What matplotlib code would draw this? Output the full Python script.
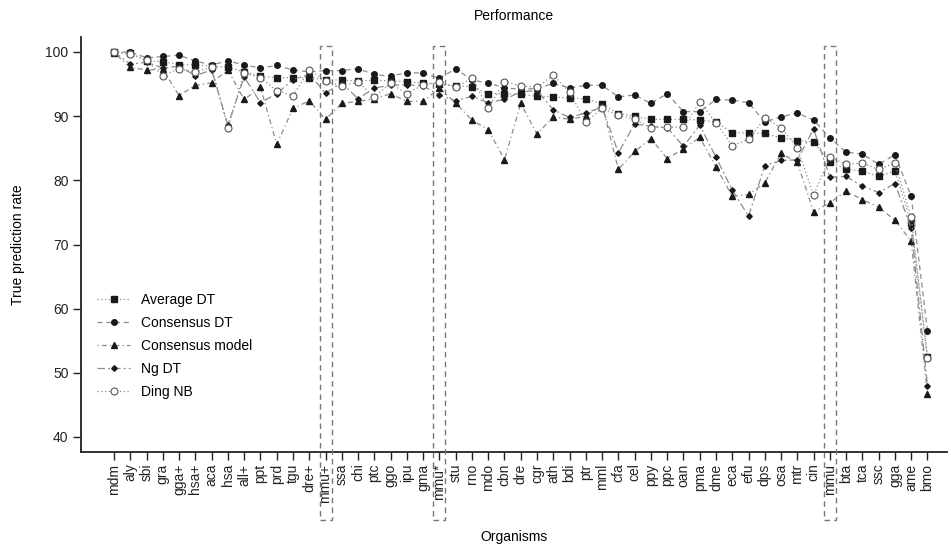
import matplotlib
matplotlib.use("Agg")
import matplotlib.pyplot as plt
from matplotlib.patches import Rectangle

plt.rcParams['font.family'] = ['Liberation Sans', 'DejaVu Sans']

# organisms on the x axis
organisms = ['mdm', 'aly', 'sbi', 'gra', 'gga+', 'hsa+', 'aca', 'hsa', 'all+', 'ppt',
             'prd', 'tgu', 'dre+', 'mmu+', 'ssa', 'chi', 'ptc', 'ggo', 'ipu', 'gma',
             'mmu*', 'stu', 'rno', 'mdo', 'cbn', 'dre', 'cgr', 'ath', 'bdi', 'ptr',
             'mml', 'cfa', 'cel', 'ppy', 'ppc', 'oan', 'pma', 'dme', 'eca', 'efu',
             'dps', 'osa', 'mtr', 'cin', 'mmu', 'bta', 'tca', 'ssc', 'gga', 'ame', 'bmo']

average_dt = [100.0, 99.8, 98.6, 98.5, 98.0, 98.0, 97.8, 97.6, 96.9, 96.2,
              96.0, 96.0, 96.0, 95.7, 95.6, 95.5, 95.6, 95.5, 95.4, 95.1,
              95.0, 94.7, 94.6, 93.5, 93.5, 93.4, 93.1, 93.0, 92.8, 92.7,
              91.9, 90.4, 90.0, 89.5, 89.5, 89.5, 89.4, 89.1, 87.4, 87.4,
              87.3, 86.6, 86.2, 86.0, 82.8, 81.8, 81.4, 80.6, 81.5, 73.3, 52.5]
consensus_dt = [100.0, 100.0, 99.1, 99.3, 99.5, 98.6, 98.0, 98.6, 98.0, 97.5,
                97.9, 97.2, 96.9, 97.1, 97.1, 97.4, 96.5, 96.2, 96.8, 96.7,
                95.9, 97.4, 95.6, 95.2, 94.4, 94.2, 94.3, 95.1, 94.4, 94.8,
                94.8, 93.0, 93.3, 92.0, 93.5, 90.7, 90.7, 92.6, 92.5, 92.1,
                89.1, 89.9, 90.5, 89.4, 86.6, 84.4, 84.1, 82.5, 84.0, 77.5, 56.5]
consensus_model = [99.9, 97.6, 97.2, 97.3, 93.2, 94.8, 95.2, 97.2, 92.6, 94.5,
                   85.6, 91.2, 92.4, 89.5, 92.0, 92.3, 92.7, 93.5, 92.3, 92.3,
                   94.4, 92.0, 89.4, 87.9, 83.2, 92.0, 87.2, 89.9, 89.5, 90.0,
                   91.8, 81.7, 84.5, 86.5, 83.4, 84.9, 86.7, 82.1, 77.5, 77.8,
                   79.6, 84.2, 82.8, 75.1, 76.5, 78.3, 77.0, 75.8, 73.8, 70.5, 46.7]
ng_dt = [100.0, 98.1, 98.4, 97.5, 97.8, 96.3, 97.2, 88.6, 96.1, 92.1,
         93.5, 95.7, 96.5, 93.6, 95.2, 92.7, 94.4, 94.8, 94.9, 94.7,
         93.3, 92.4, 93.1, 92.1, 92.6, 93.8, 94.0, 91.0, 89.8, 90.5,
         91.4, 84.3, 88.8, 88.4, 88.2, 85.3, 88.6, 83.6, 78.5, 74.4,
         82.3, 83.1, 83.2, 88.0, 80.5, 80.6, 79.1, 78.1, 79.5, 72.5, 48.0]
ding_nb = [100.0, 99.7, 98.7, 96.3, 97.4, 96.9, 97.6, 88.2, 96.7, 96.0,
           94.0, 93.2, 97.2, 95.5, 94.7, 95.3, 93.0, 95.1, 93.5, 94.9,
           95.3, 94.5, 95.9, 91.3, 95.4, 94.7, 94.5, 96.4, 93.7, 89.1,
           91.2, 90.2, 89.5, 88.2, 88.3, 88.3, 92.2, 89.0, 85.4, 86.4,
           89.7, 88.2, 85.1, 77.7, 83.6, 82.5, 82.7, 81.7, 82.7, 74.3, 52.3]

highlighted = ['mmu+', 'mmu*', 'mmu']

x = list(range(len(organisms)))

fig = plt.figure(figsize=(9.49, 5.45), dpi=100)
ax = fig.add_axes([81 / 949, 92.6 / 545, 866 / 949, 415.8 / 545])

line_col = '#8c8c8c'
mk_col = '#1a1a1a'

ax.plot(x, average_dt, color=line_col, lw=0.9, ls=(0, (1, 2)), marker='s',
        ms=4, mfc=mk_col, mec=mk_col, label='Average DT')
ax.plot(x, consensus_dt, color=line_col, lw=0.9, ls=(0, (4, 3)), marker='o',
        ms=4, mfc=mk_col, mec=mk_col, label='Consensus DT')
ax.plot(x, consensus_model, color=line_col, lw=0.9, ls=(0, (1, 2.5, 4, 2.5)), marker='^',
        ms=5, mfc=mk_col, mec=mk_col, label='Consensus model')
ax.plot(x, ng_dt, color=line_col, lw=0.9, ls=(0, (6, 2.5, 1.5, 2.5)), marker='D',
        ms=2.8, mfc=mk_col, mec=mk_col, label='Ng DT')
ax.plot(x, ding_nb, color=line_col, lw=0.9, ls=(0, (1, 2)), marker='o',
        ms=5, mfc='white', mec='#555555', mew=0.8, label='Ding NB')

# dashed boxes around the mouse entries
for name in highlighted:
    i = organisms.index(name)
    r = Rectangle((i - 0.37, 27.0), 0.74, 73.9, fill=False, ec='#777777',
                  lw=1.0, ls=(0, (4, 3)), clip_on=False, zorder=5)
    ax.add_patch(r)

ax.set_xlim(-2.03, 51.2)
ax.set_ylim(37.6, 102.4)
ax.set_xticks(x)
ax.set_xticklabels(organisms, rotation=90, fontsize=10, va='top')
ax.set_yticks([40, 50, 60, 70, 80, 90, 100])
ax.tick_params(axis='both', direction='out', length=5.5, width=1, labelsize=10, colors='#222222')
ax.tick_params(axis='x', pad=2.5)

for s in ['top', 'right']:
    ax.spines[s].set_visible(False)
for s in ['left', 'bottom']:
    ax.spines[s].set_linewidth(1.3)
    ax.spines[s].set_color('#222222')

ax.set_title('Performance', fontsize=10, pad=12)
ax.set_xlabel('Organisms', fontsize=10, labelpad=20)
ax.set_ylabel('True prediction rate', fontsize=10, labelpad=15)

ax.legend(loc='lower left', bbox_to_anchor=(0.012, 0.115), frameon=False,
          fontsize=10, handlelength=2.4, labelspacing=0.65, borderaxespad=0)

fig.savefig('out.png', dpi=100)
